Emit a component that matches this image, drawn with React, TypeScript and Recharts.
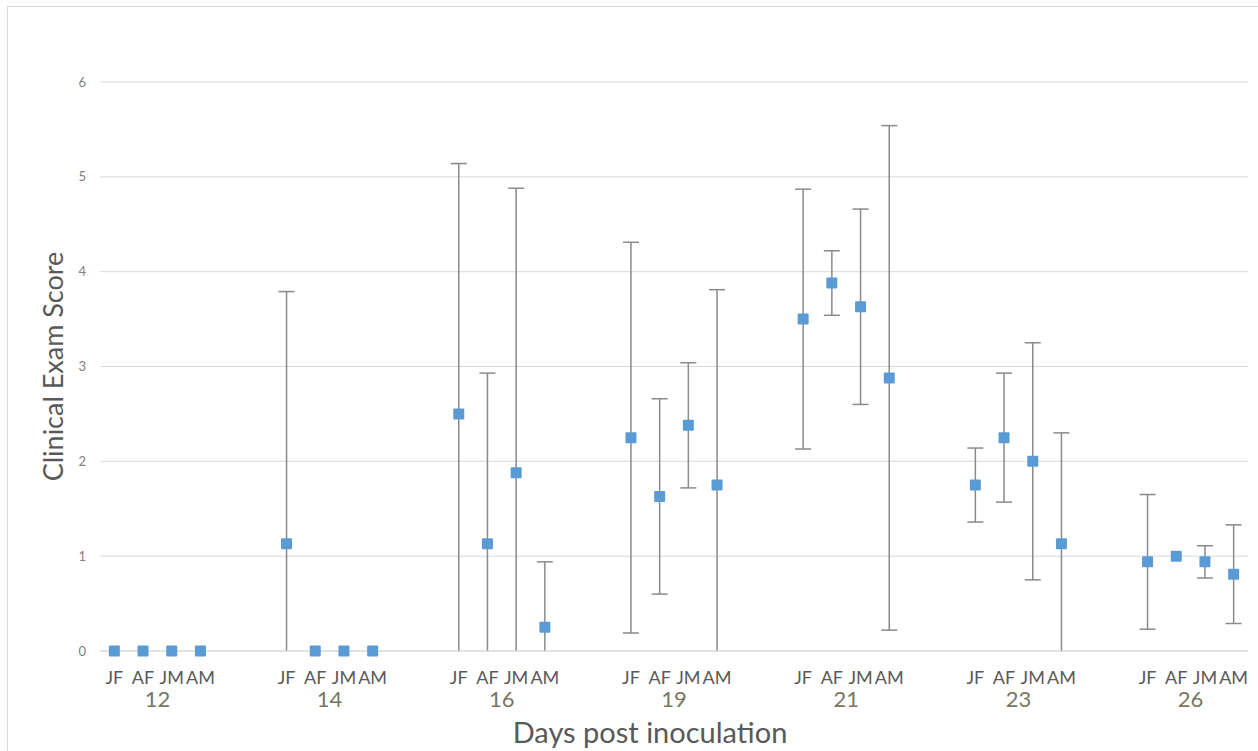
import { ScatterChart, Scatter, XAxis, YAxis, CartesianGrid, ErrorBar, Label } from "recharts";

const days = [12, 14, 16, 19, 21, 23, 26];
const groups = ["JF", "AF", "JM", "AM"];

// mean score and error (+/-) per group, one entry per day
const jfMean = [0, 1.13, 2.5, 2.25, 3.5, 1.75, 0.94];
const jfErr = [0, 2.66, 2.64, 2.06, 1.37, 0.39, 0.71];
const afMean = [0, 0, 1.13, 1.63, 3.88, 2.25, 1.0];
const afErr = [0, 0, 1.8, 1.03, 0.34, 0.68, 0];
const jmMean = [0, 0, 1.88, 2.38, 3.63, 2.0, 0.94];
const jmErr = [0, 0, 3.0, 0.66, 1.03, 1.25, 0.17];
const amMean = [0, 0, 0.25, 1.75, 2.88, 1.13, 0.81];
const amErr = [0, 0, 0.69, 2.06, 2.66, 1.17, 0.52];

const yTicks = [0, 1, 2, 3, 4, 5, 6];

const means = [jfMean, afMean, jmMean, amMean];
const errs = [jfErr, afErr, jmErr, amErr];

// each day takes 6 slots: 4 groups + 2 empty
const SLOTS = 6;

const data = days.flatMap((d, i) =>
  groups.map((g, j) => ({ x: i * SLOTS + j, y: means[j][i], err: errs[j][i], group: g, day: d }))
);

const pointTicks = data.map((p) => p.x);
const dayTicks = days.map((d, i) => i * SLOTS + 1.5);

const FONT = "Lato, 'Open Sans', sans-serif";

const W = 1258;
const H = 751;
const MARGIN = { top: 82, right: 10, left: 0, bottom: 0 };
const X_AXIS_H = 100;
const MARK = 11;

const XTick = (props: any) => {
  const { x, y, payload } = props;
  const v = payload.value;
  if (Number.isInteger(v)) {
    const g = groups[v % SLOTS];
    return (
      <text x={x} y={y + 33} textAnchor="middle" fontSize={18} fill="#595959" fontFamily={FONT}>
        {g}
      </text>
    );
  }
  const d = days[Math.floor(v / SLOTS)];
  return (
    <text x={x} y={y + 56} textAnchor="middle" fontSize={22} fill="#77775f" fontFamily={FONT}>
      {d}
    </text>
  );
};

const SquareMark = (props: any) => {
  const { cx, cy } = props;
  return <rect x={cx - MARK / 2} y={cy - MARK / 2} width={MARK} height={MARK} rx={1} fill="#5b9bd5" />;
};

export default function App() {
  // error bars are cut off at the x axis like the original (Excel clips at 0)
  const clipBottom = H - MARGIN.bottom - X_AXIS_H;
  return (
    <div style={{ position: "relative", width: W, height: H, background: "#fff" }}>
      <style>{"body{margin:0} .recharts-errorBar{clip-path:url(#errClip)}"}</style>
      <svg width={0} height={0} style={{ position: "absolute" }}>
        <defs>
          <clipPath id="errClip" clipPathUnits="userSpaceOnUse">
            <rect x={0} y={0} width={W} height={clipBottom} />
          </clipPath>
        </defs>
      </svg>
      <div
        style={{
          position: "absolute",
          left: 7,
          top: 6,
          right: 0,
          bottom: 0,
          borderLeft: "1px solid #d9d9d9",
          borderTop: "1px solid #d9d9d9",
        }}
      />
      <ScatterChart width={W} height={H} margin={MARGIN}>
        <CartesianGrid horizontal vertical={false} stroke="#d9d9d9" />
        <XAxis
          type="number"
          dataKey="x"
          domain={[-0.5, 39.5]}
          ticks={[...pointTicks, ...dayTicks]}
          interval={0}
          tick={<XTick />}
          tickLine={false}
          tickSize={0}
          tickMargin={0}
          axisLine={{ stroke: "#d9d9d9" }}
          height={X_AXIS_H}
        >
          <Label
            value="Days post inoculation"
            position="insideBottom"
            offset={8}
            dx={-24}
            fontSize={29}
            fill="#595959"
            fontFamily={FONT}
          />
        </XAxis>
        <YAxis
          type="number"
          dataKey="y"
          domain={[0, 6]}
          ticks={yTicks}
          width={100}
          axisLine={false}
          tickLine={false}
          tickSize={6}
          tickMargin={8}
          tick={{ fontSize: 13, fill: "#808080", fontFamily: FONT }}
        >
          <Label
            value="Clinical Exam Score"
            angle={-90}
            position="center"
            dx={3}
            fontSize={27}
            fill="#595959"
            fontFamily={FONT}
          />
        </YAxis>
        <YAxis yAxisId="err" type="number" dataKey="y" domain={[0, 6]} allowDataOverflow hide />
        <Scatter data={data} yAxisId="err" shape={() => <g />} isAnimationActive={false}>
          <ErrorBar dataKey="err" direction="y" width={8} stroke="#8a8a8a" strokeWidth={1.5} />
        </Scatter>
        <Scatter data={data} fill="#5b9bd5" shape={<SquareMark />} isAnimationActive={false} />
      </ScatterChart>
    </div>
  );
}
